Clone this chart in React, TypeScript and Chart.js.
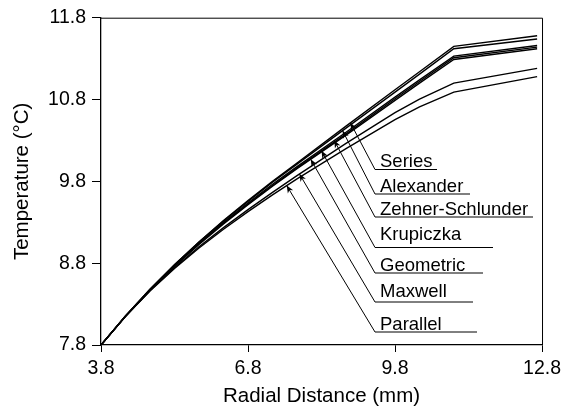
import React, { useEffect, useRef } from "react";
import { Chart, registerables } from "chart.js";

Chart.register(...registerables);

// ---- data ----
const radialDistance = [3.8, 4.3, 4.8, 5.3, 5.8, 6.3, 6.8, 7.3, 7.8, 8.8, 9.8, 10.3, 11.0, 12.7];
const seriesModel = [7.8, 8.155, 8.48, 8.78, 9.06, 9.32, 9.565, 9.8, 10.025, 10.475, 10.92, 11.14, 11.45, 11.58];
const alexanderModel = [7.8, 8.155, 8.48, 8.78, 9.06, 9.315, 9.555, 9.79, 10.01, 10.45, 10.89, 11.11, 11.42, 11.54];
const zehnerModel = [7.8, 8.155, 8.475, 8.77, 9.045, 9.3, 9.535, 9.765, 9.98, 10.4, 10.83, 11.04, 11.33, 11.46];
const krupiczkaModel = [7.8, 8.15, 8.47, 8.765, 9.04, 9.29, 9.525, 9.75, 9.965, 10.38, 10.81, 11.02, 11.31, 11.44];
const geometricModel = [7.8, 8.15, 8.47, 8.76, 9.03, 9.28, 9.515, 9.74, 9.955, 10.365, 10.79, 11.0, 11.29, 11.42];
const maxwellModel = [7.8, 8.15, 8.465, 8.745, 9.0, 9.235, 9.455, 9.665, 9.87, 10.265, 10.64, 10.805, 11.0, 11.18];
const parallelModel = [7.8, 8.15, 8.46, 8.735, 8.985, 9.215, 9.43, 9.635, 9.83, 10.2, 10.555, 10.71, 10.89, 11.08];

const seriesNames = ["Series", "Alexander", "Zehner-Schlunder", "Krupiczka", "Geometric", "Maxwell", "Parallel"];
const seriesValues = [seriesModel, alexanderModel, zehnerModel, krupiczkaModel, geometricModel, maxwellModel, parallelModel];
// radial distance (mm) where each label's arrow touches its curve
const arrowTipX = [8.89, 8.73, 8.56, 8.3, 8.08, 7.85, 7.59];

const xTicks = [3.8, 6.8, 9.8, 12.8];
const yTicks = [7.8, 8.8, 9.8, 10.8, 11.8];

// ---- annotation layout (pixels) ----
const LABEL_X = 380;
const LEADER_END_X = 375;
const labelLayout = [
  { baseline: 166.5, underline: 169.5, end: 437 },
  { baseline: 191.5, underline: 194, end: 470 },
  { baseline: 214.5, underline: 217, end: 533 },
  { baseline: 240, underline: 247.5, end: 493 },
  { baseline: 270.5, underline: 273, end: 483 },
  { baseline: 297, underline: 302, end: 473 },
  { baseline: 329.5, underline: 332, end: 477 },
];

const FONT = "'Liberation Sans', Arial, Helvetica, sans-serif";

const annotationPlugin = {
  id: "leaderLabels",
  afterDatasetsDraw(chart: any) {
    const ctx = chart.ctx;
    const xScale = chart.scales.x;
    ctx.save();
    ctx.strokeStyle = "#000";
    ctx.fillStyle = "#000";
    ctx.lineWidth = 1;
    ctx.font = `18.5px ${FONT}`;
    ctx.textBaseline = "alphabetic";
    ctx.textAlign = "left";
    seriesNames.forEach((name, i) => {
      const meta = chart.getDatasetMeta(i);
      const px = xScale.getPixelForValue(arrowTipX[i]);
      let py = meta.data[0].y;
      for (let k = 0; k < meta.data.length - 1; k++) {
        const a = meta.data[k];
        const b = meta.data[k + 1];
        if (px >= a.x && px <= b.x) {
          py = a.y + ((px - a.x) / (b.x - a.x)) * (b.y - a.y);
          break;
        }
      }
      const L = labelLayout[i];
      // leader
      ctx.beginPath();
      ctx.moveTo(px, py);
      ctx.lineTo(LEADER_END_X, L.underline);
      ctx.lineTo(L.end, L.underline);
      ctx.stroke();
      // arrow head
      const ang = Math.atan2(L.underline - py, LEADER_END_X - px);
      const len = 8;
      const spread = 0.4;
      ctx.beginPath();
      ctx.moveTo(px, py);
      ctx.lineTo(px + len * Math.cos(ang + spread), py + len * Math.sin(ang + spread));
      ctx.lineTo(px + len * 0.65 * Math.cos(ang), py + len * 0.65 * Math.sin(ang));
      ctx.lineTo(px + len * Math.cos(ang - spread), py + len * Math.sin(ang - spread));
      ctx.closePath();
      ctx.fill();
      // text
      ctx.fillText(name, LABEL_X, L.baseline);
    });
    ctx.restore();
  },
  afterDraw(chart: any) {
    const { left, right, top, bottom } = chart.chartArea;
    const ctx = chart.ctx;
    ctx.save();
    ctx.strokeStyle = "#000";
    ctx.lineWidth = 1;
    ctx.beginPath();
    ctx.moveTo(left, top + 0.5);
    ctx.lineTo(right + 0.5, top + 0.5);
    ctx.lineTo(right + 0.5, bottom);
    ctx.stroke();
    ctx.restore();
  },
};

export default function App() {
  const canvasRef = useRef<HTMLCanvasElement | null>(null);

  useEffect(() => {
    if (!canvasRef.current) return;
    Chart.defaults.font.family = FONT;
    Chart.defaults.color = "#000";
    const chart = new Chart(canvasRef.current, {
      type: "line",
      data: {
        datasets: seriesNames.map((name, i) => ({
          label: name,
          data: radialDistance.map((x, k) => ({ x, y: seriesValues[i][k] })),
          borderColor: "#000",
          backgroundColor: "#000",
          borderWidth: 1.4,
          pointRadius: 0,
          tension: 0,
          fill: false,
        })),
      },
      options: {
        responsive: false,
        animation: false,
        layout: { padding: { top: 15, right: 21, left: 0, bottom: 0 } },
        plugins: {
          legend: { display: false },
          tooltip: { enabled: false },
          title: { display: false },
        },
        scales: {
          x: {
            type: "linear",
            min: 3.8,
            max: 12.8,
            afterBuildTicks: (scale: any) => {
              scale.ticks = xTicks.map((v) => ({ value: v }));
            },
            afterFit: (scale: any) => {
              scale.height = 65;
            },
            grid: { drawOnChartArea: false, drawTicks: true, tickLength: 7, color: "#000", lineWidth: 1 },
            border: { display: true, color: "#000", width: 1.3 },
            ticks: {
              padding: 5,
              maxRotation: 0,
              autoSkip: false,
              font: { size: 19.5 },
              color: "#000",
              callback: (v: any) => Number(v).toFixed(1),
            },
            title: {
              display: true,
              text: "Radial Distance (mm)",
              font: { size: 20.5 },
              color: "#000",
              padding: { top: 0, bottom: 1 },
            },
          },
          y: {
            type: "linear",
            min: 7.8,
            max: 11.8,
            afterBuildTicks: (scale: any) => {
              scale.ticks = yTicks.map((v) => ({ value: v }));
            },
            afterFit: (scale: any) => {
              scale.width = 101;
            },
            grid: { drawOnChartArea: false, drawTicks: true, tickLength: 9, color: "#000", lineWidth: 1 },
            border: { display: true, color: "#000", width: 1.3 },
            ticks: {
              padding: 6,
              autoSkip: false,
              font: { size: 19.5 },
              color: "#000",
              callback: (v: any) => Number(v).toFixed(1),
            },
            title: {
              display: true,
              text: "Temperature (°C)",
              font: { size: 20.5 },
              color: "#000",
              padding: { top: 10, bottom: 0 },
            },
          },
        },
      },
      plugins: [annotationPlugin],
    });
    return () => chart.destroy();
  }, []);

  return (
    <div style={{ position: "absolute", left: 0, top: 0, width: 566, height: 410, background: "#fff" }}>
      <canvas ref={canvasRef} width={566} height={410} />
    </div>
  );
}
